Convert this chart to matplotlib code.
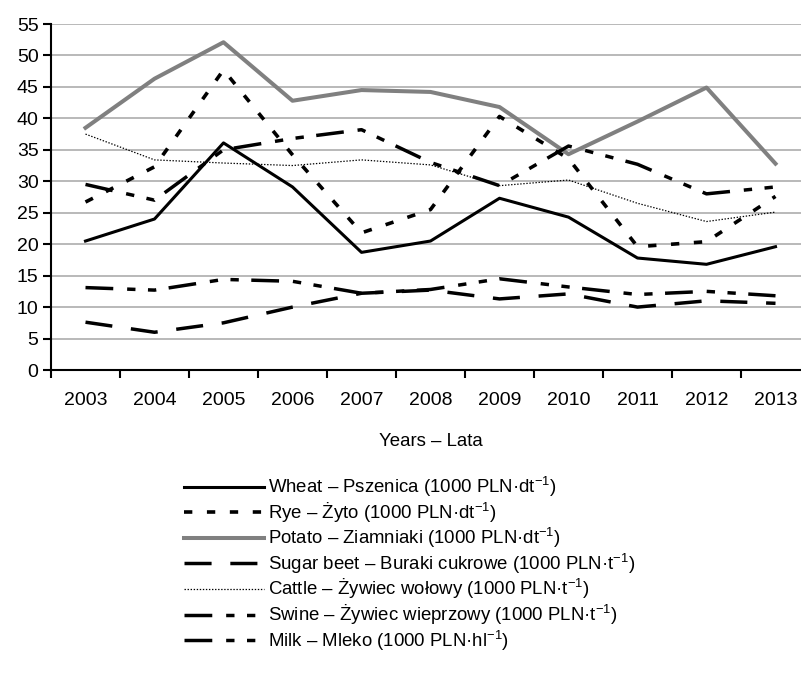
import matplotlib
matplotlib.use("Agg")
import matplotlib.pyplot as plt
import numpy as np

plt.rcParams['font.family'] = ['Liberation Sans', 'DejaVu Sans']
plt.rcParams['mathtext.fontset'] = 'custom'
plt.rcParams['mathtext.rm'] = 'Liberation Sans'
plt.rcParams['mathtext.it'] = 'Liberation Sans:italic'
plt.rcParams['mathtext.bf'] = 'Liberation Sans:bold'
plt.rcParams['lines.scale_dashes'] = False

years = ['2003', '2004', '2005', '2006', '2007', '2008', '2009', '2010', '2011', '2012', '2013']

wheat = [20.5, 24.0, 36.1, 29.1, 18.7, 20.5, 27.3, 24.3, 17.8, 16.8, 19.6]
rye = [26.7, 32.3, 47.7, 34.2, 21.8, 25.5, 40.3, 33.6, 19.6, 20.4, 27.6]
potato = [38.5, 46.3, 52.1, 42.8, 44.5, 44.2, 41.8, 34.3, 39.5, 44.9, 32.8]
sugar_beet = [7.6, 6.0, 7.5, 10.0, 12.2, 12.7, 11.3, 12.1, 10.0, 11.0, 10.6]
cattle = [37.5, 33.4, 32.9, 32.5, 33.4, 32.6, 29.3, 30.2, 26.5, 23.6, 25.1]
swine = [29.5, 27.0, 35.0, 36.8, 38.2, 33.0, 29.3, 35.6, 32.7, 28.0, 29.1]
milk = [13.1, 12.7, 14.4, 14.1, 12.2, 12.8, 14.5, 13.2, 12.0, 12.5, 11.8]

labels = [
    'Wheat – Pszenica (1000 PLN·dt$^{-1}$)',
    'Rye – Żyto (1000 PLN·dt$^{-1}$)',
    'Potato – Ziamniaki (1000 PLN·dt$^{-1}$)',
    'Sugar beet – Buraki cukrowe (1000 PLN·t$^{-1}$)',
    'Cattle – Żywiec wołowy (1000 PLN·t$^{-1}$)',
    'Swine – Żywiec wieprzowy (1000 PLN·t$^{-1}$)',
    'Milk – Mleko (1000 PLN·hl$^{-1}$)',
]

fig = plt.figure(figsize=(8.01, 6.73), dpi=100)
W, H = 801, 673
# the plot runs slightly past the right edge of the figure
ax = fig.add_axes([51 / W, 1 - 370 / H, (810 - 51) / W, 346 / H])

x = np.arange(len(years))
dash_long = (0, (20, 10, 6, 9, 6, 9))
ax.plot(x, wheat, color='black', lw=2.2, label=labels[0])
ax.plot(x, rye, color='black', lw=2.6, linestyle=(0, (6, 10.5)), label=labels[1])
ax.plot(x, potato, color='#808080', lw=2.9, label=labels[2])
ax.plot(x, sugar_beet, color='black', lw=2.5, linestyle=(0, (19.5, 13.5)), label=labels[3])
ax.plot(x, cattle, color='black', lw=0.9, linestyle=(0, (1, 1.2)), label=labels[4])
ax.plot(x, swine, color='black', lw=2.5, linestyle=dash_long, label=labels[5])
ax.plot(x, milk, color='black', lw=2.5, linestyle=dash_long, label=labels[6])

ax.set_xlim(-0.5, len(years) - 0.5)
ax.set_ylim(0, 55)
ax.set_yticks(np.arange(0, 56, 5))
ax.yaxis.grid(True, color='#a6a6a6', lw=1.1)
ax.set_axisbelow(True)

# tick marks between years, labels centred on each year
ax.set_xticks(np.arange(-0.5, len(years), 1))
ax.set_xticklabels([])
ax.set_xticks(x, minor=True)
ax.set_xticklabels(years, minor=True)
ax.tick_params(axis='x', which='major', length=6, width=1.5, direction='out')
ax.tick_params(axis='x', which='minor', length=0, pad=16, labelsize=14)
ax.tick_params(axis='y', length=6, width=1.5, direction='out', pad=3, labelsize=14)

for s in ('top', 'right'):
    ax.spines[s].set_visible(False)
ax.spines['left'].set_linewidth(1.5)
ax.spines['bottom'].set_linewidth(1.5)

ax.set_xlabel('Years – Lata', fontsize=13.4, labelpad=17)

fig.legend(loc='upper left', bbox_to_anchor=(184 / W, 1 - 475 / H), frameon=False,
           fontsize=13.4, handlelength=4.3, handletextpad=0.2, labelspacing=0.08,
           borderaxespad=0, borderpad=0)

fig.savefig('out.png', dpi=100)
